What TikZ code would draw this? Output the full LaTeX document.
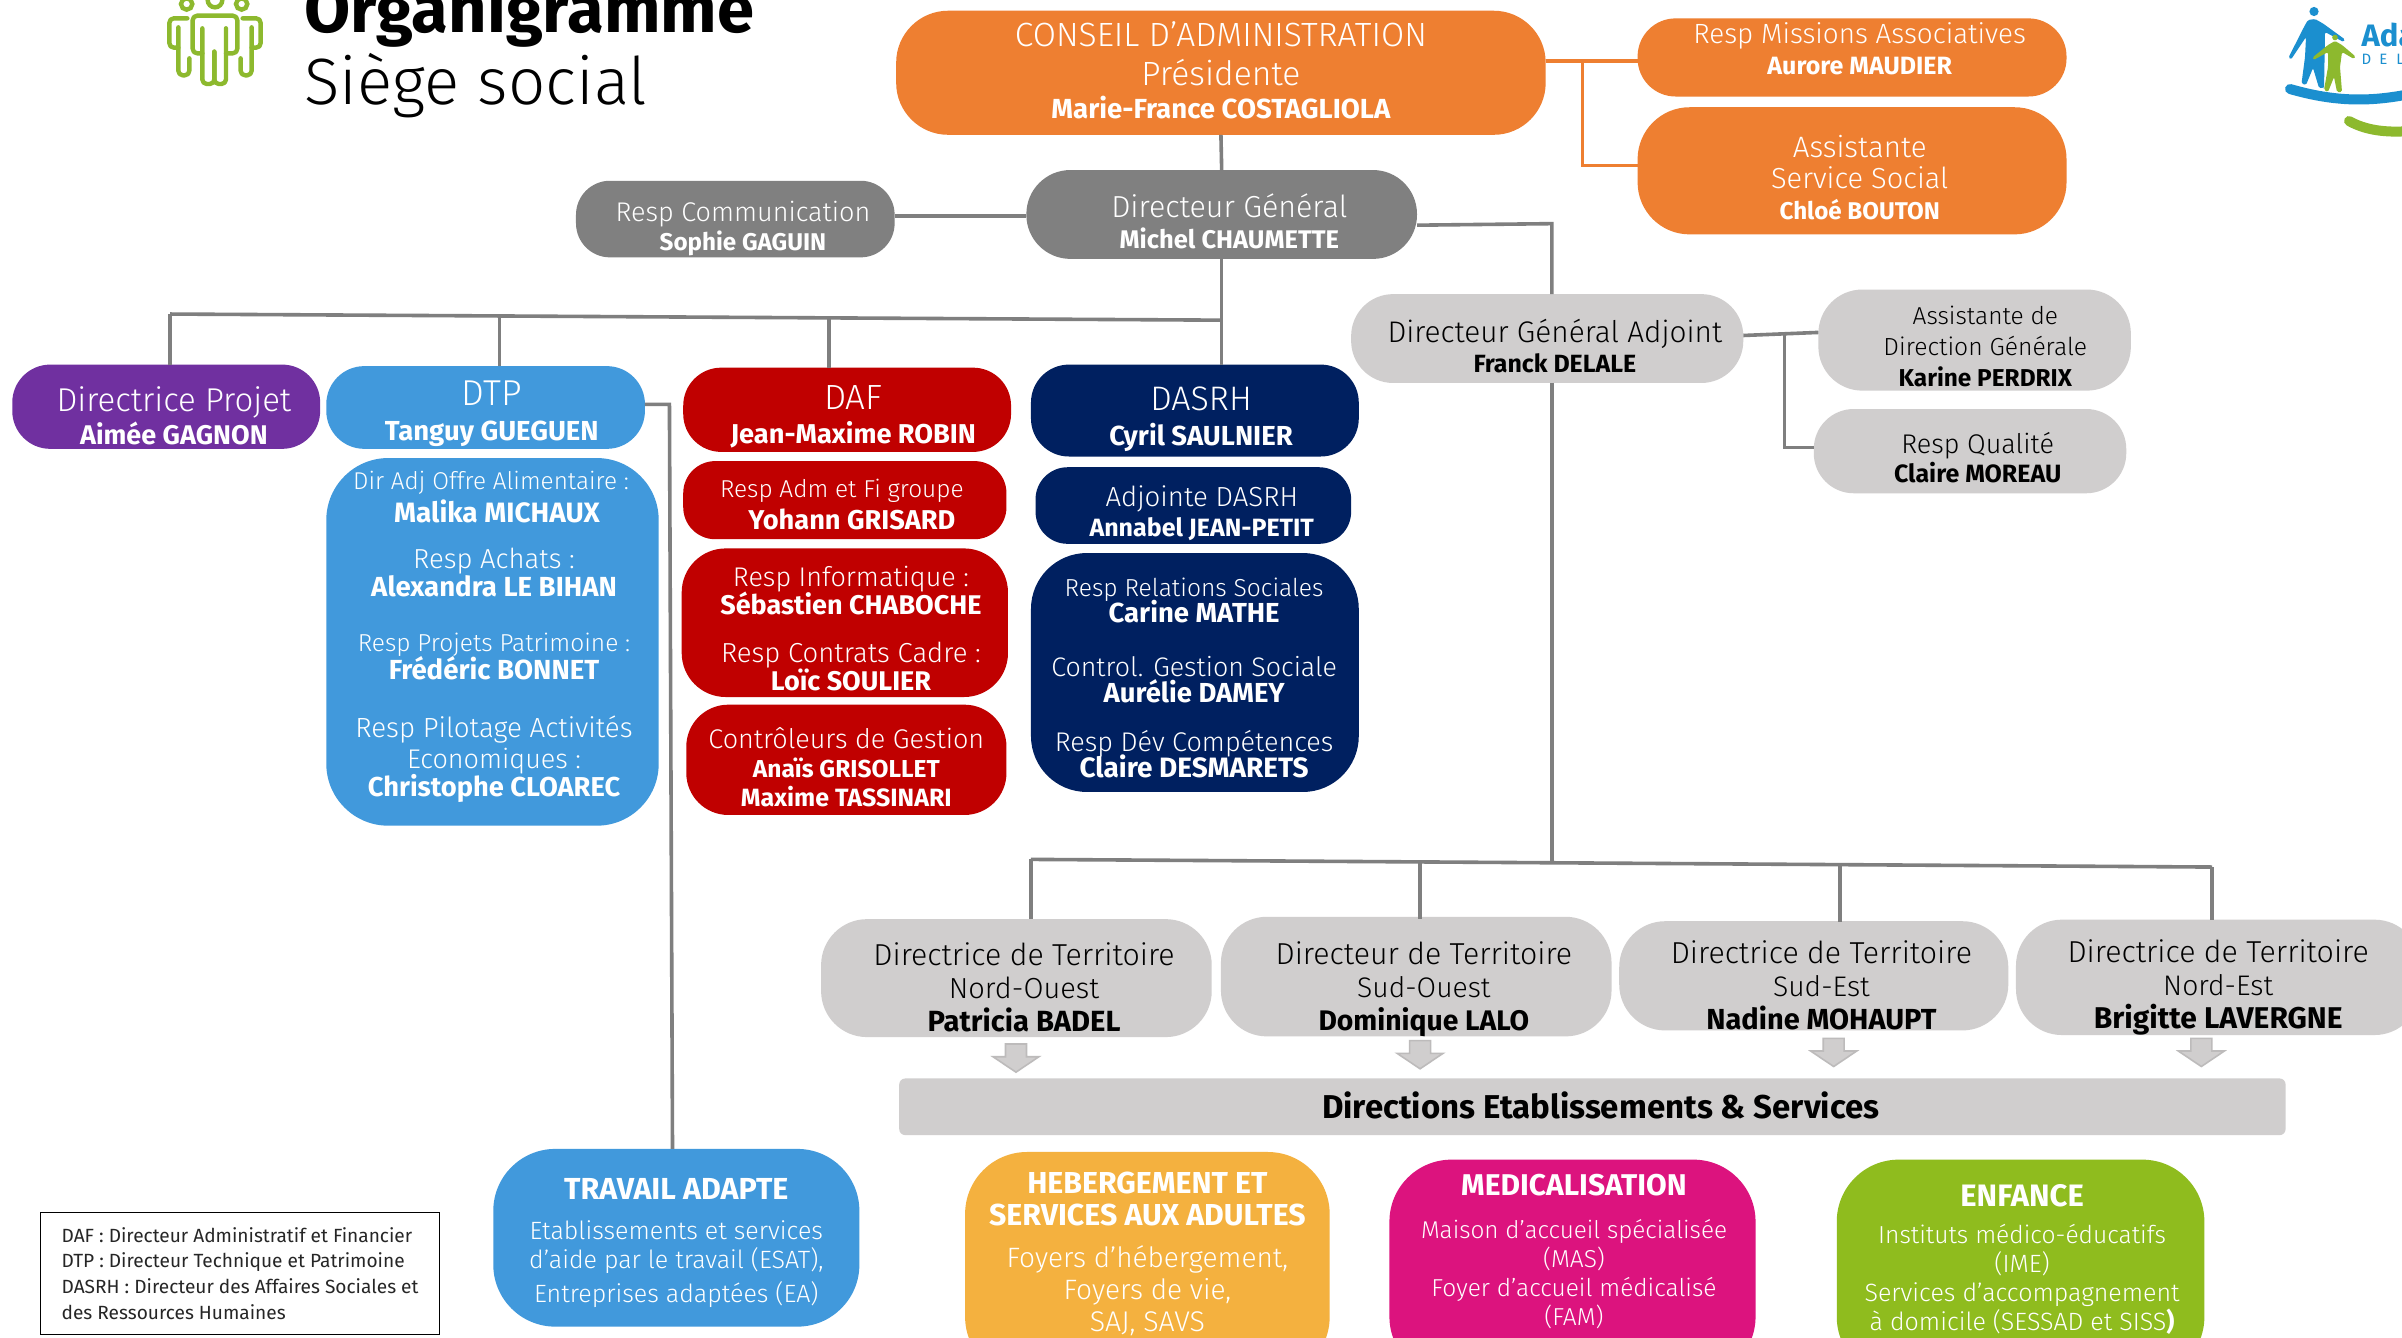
\documentclass[tikz,border=0pt]{standalone}
\usepackage{fontspec}
\setmainfont{Fira Sans Light}[BoldFont={Fira Sans Bold}]
\newfontfamily\regf{Fira Sans}
\definecolor{conn}{HTML}{7F7F7F}
\definecolor{cOrange}{HTML}{EE7F31}
\definecolor{cGrey}{HTML}{808080}
\definecolor{cLight}{HTML}{D0CECE}
\definecolor{cPurple}{HTML}{7030A0}
\definecolor{cBlue}{HTML}{4199DC}
\definecolor{cRed}{HTML}{C00000}
\definecolor{cNavy}{HTML}{002060}
\definecolor{cYellow}{HTML}{F4B13F}
\definecolor{cPink}{HTML}{DC137E}
\definecolor{cGreen}{HTML}{8FBC1E}
\definecolor{cIcon}{HTML}{8DB92E}
\definecolor{cLogoB}{HTML}{1B8FCF}
\definecolor{cArrow}{HTML}{BDBBBB}
\lineskiplimit=-1000pt
\newcommand\F[2]{{\fontsize{#1}{#1}\selectfont #2}}
\newcommand\B[2]{{\fontsize{#1}{#1}\selectfont\bfseries #2}}
\def\parsebx#1,#2,#3,#4;{\def\xa{#1}\def\ya{#2}\def\xb{#3}\def\yb{#4}}
\def\parsedd#1,#2;{\def\ddx{#1}\def\ddy{#2}}
% name, style, x1,y1,x2,y2 (reference units), dx,dy of the text, line height (pt), text
\newcommand\bx[6]{%
  \parsebx#3;\parsedd#4;%
  \pgfmathsetmacro\bxw{(\xb-\xa)*1.53189}%
  \pgfmathsetmacro\bxh{(\yb-\ya)*1.53189}%
  \pgfmathsetmacro\bxcx{(\xa+\xb)/2}%
  \pgfmathsetmacro\bxcy{(\ya+\yb)/2}%
  \pgfmathsetmacro\kt{max(2*\ddy*1.53189,0)}%
  \pgfmathsetmacro\kb{max(-2*\ddy*1.53189,0)}%
  \pgfmathsetmacro\sl{max(2*\ddx*1.53189,0)}%
  \pgfmathsetmacro\sr{max(-2*\ddx*1.53189,0)}%
  \node[boxbase,#2,minimum width=\bxw pt,minimum height=\bxh pt] (#1) at (\bxcx,\bxcy)
    {\vbox{\hsize=\bxw pt\kern\kt pt\baselineskip=#5pt\parindent=0pt\parfillskip=0pt
      \leftskip=\sl pt plus 1fil\rightskip=\sr pt plus 1fil\let\\\linebreakcr #6\par\kern\kb pt}};%
}
\makeatletter
\def\linebreakcr{\@ifnextchar[{\lbcr@}{\lbcr@[0pt]}}
\def\lbcr@[#1]{\unskip\vadjust{\vskip#1}\break\null}
\makeatother
\newcommand\darrow[3]{\coordinate (#1) at (#2,#3);
  \draw[downarrow] ([shift={(-6.85,-9.2)}]#1) -- ([shift={(6.85,-9.2)}]#1) -- ([shift={(6.85,-0.9)}]#1) -- ([shift={(15,-0.9)}]#1) -- ([shift={(0,9.2)}]#1) -- ([shift={(-15,-0.9)}]#1) -- ([shift={(-6.85,-0.9)}]#1) -- cycle;}
\tikzset{
  boxbase/.style={inner sep=0pt,outer sep=0pt,rectangle},
  line/.style={draw=conn,line width=3.6pt},
  orangeline/.style={draw=cOrange,line width=3.6pt},
  orangebox/.style={fill=cOrange,text=white,rounded corners=52pt},
  greybox/.style={fill=cGrey,text=white,rounded corners=34pt},
  lightbox/.style={fill=cLight,text=black,rounded corners=36pt},
  purplebox/.style={fill=cPurple,text=white,rounded corners=32pt},
  bluebox/.style={fill=cBlue,text=white,rounded corners=32pt},
  redbox/.style={fill=cRed,text=white,rounded corners=32pt},
  navybox/.style={fill=cNavy,text=white,rounded corners=32pt},
  iconline/.style={draw=cIcon,line width=4.4pt,rounded corners=4.5pt,line join=round,line cap=round},
  iconhead/.style={draw=cIcon,line width=4.4pt},
  downarrow/.style={draw=cArrow,fill=cLight,line width=1.6pt,line join=miter},
}
\begin{document}
\begin{tikzpicture}[x=1.53189pt,y=-1.53189pt]
\useasboundingbox (0,0) rectangle (1568,873.43);
\clip (0,0) rectangle (1568,873.43);
\fill[white] (0,0) rectangle (1568,873.43);
% title
\node[anchor=base west,inner sep=0pt] (title1) at (198.5,21) {\B{66.9}{Organigramme}};
\node[anchor=base west,inner sep=0pt] (title2) at (198.5,68) {\F{65.5}{Siège social}};
% icon
\begin{scope}[shift={(97.92,0)},x=0.3333pt,y=-0.3333pt]
  \draw[iconline] (112,55)--(58,55)--(58,143)--(85,143);
  \draw[iconline] (85,82)--(85,226)--(118,226)--(118,175);
  \draw[iconline] (278,55)--(332,55)--(332,143)--(305,143);
  \draw[iconline] (305,82)--(305,226)--(272,226)--(272,175);
  \draw[iconline] (157,160)--(128,160)--(128,47)--(262,47)--(262,160)--(228,160);
  \draw[iconline] (157,85)--(157,252)--(193,252)--(193,155);
  \draw[iconline] (193,155)--(193,252)--(228,252)--(228,85);
  \draw[iconhead] (110,12) circle (17);
  \draw[iconhead] (195,0) circle (22);
  \draw[iconhead] (275,12) circle (17);
\end{scope}
% logo
\begin{scope}[x=1pt,y=-1pt]
\clip (2285,0) rectangle (2402,136);
\fill[cLogoB] (2314,11.5) circle (4.6);
\fill[cLogoB,rounded corners=1.5pt] (2315,19)--(2323,23.5)--(2345,39.5)--(2343.5,42)--(2325,32)--(2324,90)--(2320,67)--(2324,88)--(2319,88)--(2313,68)--(2306,85)--(2301.5,83.5)--(2305,57)--(2306,37)--(2291,59.5)--(2288.5,57.5)--(2305,25)--(2308,20)--cycle;
\fill[cIcon] (2335,37.5) circle (2.8);
\fill[cIcon,rounded corners=1.5pt] (2335,41)--(2342,45)--(2355.5,56.5)--(2354,59)--(2342,52)--(2340,67)--(2342,92)--(2337,92)--(2334,77)--(2328,92)--(2324,90)--(2328,67)--(2328,52)--(2313.5,60)--(2312.5,57.5)--(2328,45)--cycle;
\draw[cLogoB,line width=10pt,line cap=round] (2290,89) .. controls (2335,102) and (2370,102) .. (2410,94);
\draw[cIcon,line width=10pt,line cap=round] (2349,121) .. controls (2365,130) and (2385,133) .. (2410,131);
\end{scope}
\node[anchor=base west,inner sep=0pt,text=cLogoB] (ada) at (1541.5,30.5) {\B{31}{Ada}};
\node[anchor=base west,inner sep=0pt,text=cLogoB] (del) at (1541.5,41.8) {\regf\fontsize{15}{15}\selectfont D\hspace{8pt}E\hspace{9pt}L};
% top
\bx{ca}{orangebox}{585,7,1009,88}{0,-1.5}{36}{\F{33.6}{CONSEIL D'ADMINISTRATION}\\[3pt]\F{33.6}{Présidente}\\[-3pt]\B{27.6}{Marie-France COSTAGLIOLA}}
\bx{mis}{orangebox,rounded corners=38pt}{1069,12,1349,63}{5,-6}{31}{\F{27.8}{Resp Missions Associatives}\\\B{25}{Aurore MAUDIER}}
\bx{soc}{orangebox}{1069,70,1349,153}{5,4.5}{31}{\F{29.5}{Assistante}\\\F{29}{Service Social}\\\B{24.2}{Chloé BOUTON}}
\bx{dg}{greybox,rounded corners=44pt}{670,111,925,169}{5,4.5}{30.5}{\F{30.4}{Directeur Général}\\\B{25.5}{Michel CHAUMETTE}}
\bx{com}{greybox}{376,118,584,168}{5,6.5}{29}{\F{27}{Resp Communication}\\\B{24.2}{Sophie GAGUIN}}
\bx{dga}{lightbox,rounded corners=42pt}{882,192,1138,250}{5,5}{30.5}{\F{29.8}{Directeur Général Adjoint}\\\B{24.9}{Franck DELALE}}
\bx{asd}{lightbox,rounded corners=44pt}{1187,189,1391,255}{7,4.5}{31}{\F{24.5}{Assistante de}\\\F{24.7}{Direction Générale}\\\B{24.4}{Karine PERDRIX}}
\bx{qua}{lightbox,rounded corners=40pt}{1184,267,1388,322}{5,4.5}{29}{\F{27}{Resp Qualité}\\\B{25}{Claire MOREAU}}
% row
\bx{prj}{purplebox,rounded corners=38pt}{8,238,209,293}{5,6}{33.5}{\F{33}{Directrice Projet}\\\B{27}{Aimée GAGNON}}
\bx{dtp}{bluebox,rounded corners=38pt}{213,239,421,293}{4,4}{35}{\F{36}{DTP}\\\B{27.5}{Tanguy GUEGUEN}}
\bx{dtpl}{bluebox,rounded corners=62pt}{213,299,430,539}{1,-3.5}{28}{\hskip-6pt\F{24.3}{Dir Adj Offre Alimentaire :}\\[5pt]\hskip6pt\B{28}{Malika MICHAUX}\\[18pt]\F{27.5}{Resp Achats :}\\\B{27.6}{Alexandra LE BIHAN}\\[27pt]\F{24.5}{Resp Projets Patrimoine :}\\\B{27.6}{Frédéric BONNET}\\[30pt]\F{27.7}{Resp Pilotage Activités}\\[3pt]\F{27}{Economiques :}\\\B{27.3}{Christophe CLOAREC}}
\bx{daf}{redbox,rounded corners=38pt}{446,240,660,295}{4,4.5}{33.7}{\F{35}{DAF}\\\B{27.2}{Jean-Maxime ROBIN}}
\bx{adm}{redbox}{446,301,657,352}{0,3}{32}{\hskip-6pt\F{24.4}{Resp Adm et Fi groupe}\\\hskip14pt\B{27.2}{Yohann GRISARD}}
\bx{inf}{redbox,rounded corners=44pt}{445,358,658,455}{4,4}{28}{\F{27}{Resp Informatique :}\\\B{27}{Sébastien CHABOCHE}\\[20pt]\F{27.5}{Resp Contrats Cadre :}\\\B{27}{Loïc SOULIER}}
\bx{ctr}{redbox,rounded corners=42pt}{448,460,657,532}{0,4.5}{29}{\F{27}{Contrôleurs de Gestion}\\\B{24.5}{Anaïs GRISOLLET}\\\B{25}{Maxime TASSINARI}}
\bx{das}{navybox,rounded corners=38pt}{673,238,887,298}{4,5.5}{35}{\F{34}{DASRH}\\\B{27.5}{Cyril SAULNIER}}
\bx{adj}{navybox}{676,305,882,355}{5.5,5}{30}{\F{27.6}{Adjointe DASRH}\\\B{25}{Annabel JEAN-PETIT}}
\bx{rel}{navybox,rounded corners=56pt}{673,361,887,517}{-0.5,3.5}{26}{\F{24.6}{Resp Relations Sociales}\\\B{27.5}{Carine MATHE}\\[28pt]\F{26.8}{Control. Gestion Sociale}\\\B{27.5}{Aurélie DAMEY}\\[23pt]\F{27}{Resp Dév Compétences}\\\B{28}{Claire DESMARETS}}
% territories
\bx{t1}{lightbox,rounded corners=46pt}{536,600,791,677}{5,6}{33}{\F{30.3}{Directrice de Territoire}\\\F{29}{Nord-Ouest}\\\B{29.2}{Patricia BADEL}}
\bx{t2}{lightbox,rounded corners=46pt}{797,600,1052,675}{5,8}{33}{\F{30.3}{Directeur de Territoire}\\\F{28.3}{Sud-Ouest}\\\B{28.3}{Dominique LALO}}
\bx{t3}{lightbox,rounded corners=46pt}{1057,602,1311,672}{5,6.5}{33}{\F{30.3}{Directrice de Territoire}\\\F{28.3}{Sud-Est}\\\B{29}{Nadine MOHAUPT}}
\bx{t4}{lightbox,rounded corners=46pt}{1316,601,1580,675}{0,6.5}{33}{\F{30.3}{Directrice de Territoire}\\\F{28.3}{Nord-Est}\\\B{30}{Brigitte LAVERGNE}}
\darrow{a1}{663.2}{690.7}
\darrow{a2}{927}{688.5}
\darrow{a3}{1197}{687}
\darrow{a4}{1437}{687}
\bx{bar}{fill=cLight,rounded corners=6pt}{587,704,1492,741}{5.5,-1}{30}{\B{33}{Directions Etablissements \& Services}}
% bottom
\bx{trv}{bluebox,rounded corners=62pt}{322,750,561,866}{0,3.5}{29}{\B{30.4}{TRAVAIL ADAPTE}\\[11pt]\F{25}{Etablissements et services}\\\F{25}{d'aide par le travail (ESAT),}\\[5pt]\F{25}{Entreprises adaptées (EA)}}
\bx{heb}{fill=cYellow,text=white,rounded corners=62pt}{630,752,868,900}{0,-7.5}{32}{\B{30.3}{HEBERGEMENT ET}\\\B{30.3}{SERVICES AUX ADULTES}\\[10pt]\F{28}{Foyers d'hébergement,}\\\F{28}{Foyers de vie,}\\\F{28.5}{SAJ, SAVS}}
\bx{med}{fill=cPink,text=white,rounded corners=62pt}{907,757,1146,900}{1,-11.5}{29}{\B{30}{MEDICALISATION}\\[14pt]\F{24.3}{Maison d'accueil spécialisée}\\\F{24.5}{(MAS)}\\\F{24.5}{Foyer d'accueil médicalisé}\\\F{24.5}{(FAM)}}
\bx{enf}{fill=cGreen,text=white,rounded corners=62pt}{1199,757,1439,900}{1,-6.5}{29}{\B{31}{ENFANCE}\\[8pt]\F{24.6}{Instituts médico-éducatifs}\\\F{25}{(IME)}\\\F{25}{Services d'accompagnement}\\\F{25}{à domicile (SESSAD et SISS\textbf{)}}}
\node[draw=black,line width=1.5pt,fill=white,anchor=north west,inner sep=0pt,minimum width=399pt,minimum height=122pt,text=black!85] (leg) at (26,791)
  {\vbox{\hsize=361pt\regf\fontsize{19.1}{25.8}\selectfont\hbox{DAF : Directeur Administratif et Financier}\hbox{DTP : Directeur Technique et Patrimoine}\hbox{DASRH : Directeur des Affaires Sociales et}\hbox{des Ressources Humaines}}};
% connectors
\coordinate (busL) at (111,205); \coordinate (busR) at (797,209);
\coordinate (terL) at (673,561); \coordinate (terR) at (1444,566);
\coordinate (dgR) at (1013,146); \coordinate (terM) at (1013,563);
\coordinate (dtpR) at (437,264);
\coordinate (orgV) at (1033,40); \coordinate (orgB) at (1033,108);
\coordinate (adjV) at (1165,218); \coordinate (adjB) at (1165,292);
\draw[line] (ca.south) -- (dg.north);
\draw[line] (dg.south) -- (das.north -| dg.south);
\draw[line] (busL) -- (busR);
\draw[line] (busL) -- (busL |- prj.north);
\draw[line] (326,206) -- (326,239);
\draw[line] (541,208) -- (541,240);
\draw[line] (com.east |- 0,141) -- (dg.west |- 0,141);
\draw[line] (925,147) -- (dgR) -- (dgR |- dga.north);
\draw[line] (dgR |- dga.south) -- (terM);
\draw[line] (terL) -- (terR);
\draw[line] (terL) -- (terL |- t1.north);
\draw[line] (927,562) -- (927,600);
\draw[line] (1201,564) -- (1201,602);
\draw[line] (terR) -- (terR |- t4.north);
\draw[orangeline] (ca.east |- orgV) -- (mis.west |- orgV);
\draw[orangeline] (orgV) -- (orgB) -- (soc.west |- orgB);
\draw[line] (dga.east |- 0,219) -- (1187,217);
\draw[line] (adjV) -- (adjB) -- (qua.west |- adjB);
\draw[line] (dtp.east |- dtpR) -- (dtpR) -- (trv.north -| 439,0);
\end{tikzpicture}
\end{document}
